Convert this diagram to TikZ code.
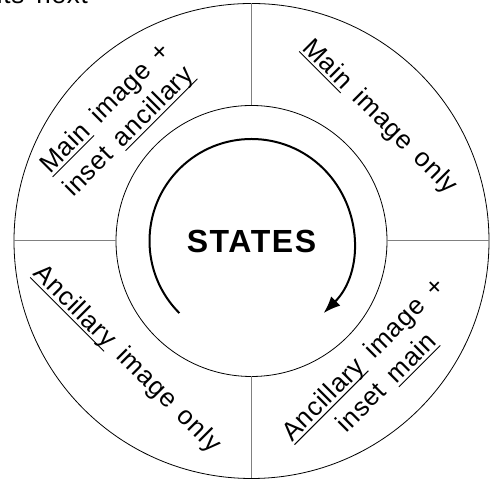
\documentclass[tikz,border=0pt]{standalone}
\usepackage{fontspec}
\setmainfont{Liberation Sans}
\newfontfamily\lblfont[LetterSpace=3,WordSpace=1.5]{Liberation Sans}
\newfontfamily\stfont[LetterSpace=5]{Liberation Sans}
\usetikzlibrary{arrows.meta,calc}
\newsavebox\ulbox
\newcommand\ulw[1]{\sbox\ulbox{#1}\rlap{\rule[-4pt]{\wd\ulbox}{0.9pt}}\usebox\ulbox}
\begin{document}
\begin{tikzpicture}[x=1pt,y=1pt,
  ring/.style={circle, draw, line width=0.8pt, inner sep=0pt, outer sep=0pt},
  divider/.style={draw=gray, line width=1pt},
  lbl/.style={font=\lblfont\fontsize{26}{33}\selectfont, align=center, inner sep=0pt},
  cycle/.style={line width=2pt, -{Latex[length=17pt,width=13pt]}}]
\useasboundingbox (0,0) rectangle (491,481);
\coordinate (c) at (251.5,240);
\node[ring, minimum size=475pt] (outer) at (c) {};
\node[ring, minimum size=271pt] (inner) at (c) {};
\draw[divider] (inner.east) -- (outer.east);
\draw[divider] (inner.north) -- (outer.north);
\draw[divider] (inner.west) -- (outer.west);
\draw[divider] (inner.south) -- (outer.south);
\node[font=\stfont\bfseries\fontsize{32}{38}\selectfont] (states) at (c) {STATES};
\coordinate (arcstart) at ($(c)+(225:102)$);
\draw[cycle] (arcstart) arc[start angle=225, end angle=-45, radius=102];
\node[lbl, rotate=45] (nw) at ($(c)+(138:180)$) {\ulw{Main} image +\\inset \ulw{ancillary}};
\node[lbl, rotate=-45] (ne) at ($(c)+(44:178)$) {\ulw{Main} image only};
\node[lbl, rotate=-45] (sw) at ($(c)+(223.5:172)$) {\ulw{Ancillary} image only};
\node[lbl, rotate=45] (se) at ($(c)+(-46.5:180)$) {\ulw{Ancillary} image +\\inset \ulw{main}};
\node[lbl, anchor=base east] (top) at (88,477.5) {its next};
\end{tikzpicture}
\end{document}
